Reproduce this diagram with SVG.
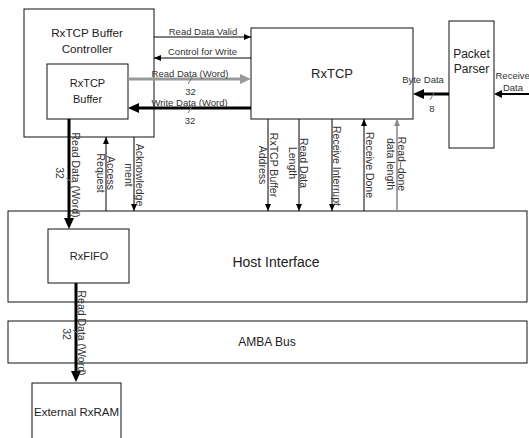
<svg xmlns="http://www.w3.org/2000/svg" width="529" height="438" viewBox="0 0 529 438">
<style>
.box{fill:#fff;stroke:#111;stroke-width:1}
.t{font-family:"Liberation Sans",Arial,sans-serif;fill:#222}
.lbl{font-family:"Liberation Sans",Arial,sans-serif;fill:#333;font-size:9.5px}
.vl{font-family:"Liberation Sans",Arial,sans-serif;fill:#333;font-size:10.5px;text-anchor:middle}
.thin{stroke:#000;stroke-width:1;fill:none}
.thick{stroke:#000;stroke-width:3;fill:none}
.gthick{stroke:#999;stroke-width:3;fill:none}
.gthin{stroke:#888;stroke-width:1.5;fill:none}
.sl{stroke:#777;stroke-width:1}
</style>
<defs>
<marker id="ah" markerUnits="userSpaceOnUse" markerWidth="8" markerHeight="6" refX="7" refY="3" orient="auto"><path d="M0,0L7,3L0,6z" fill="#000"/></marker>
<marker id="ahg" markerUnits="userSpaceOnUse" markerWidth="8" markerHeight="6" refX="7" refY="3" orient="auto"><path d="M0,0L7,3L0,6z" fill="#888"/></marker>
<marker id="ahB" markerUnits="userSpaceOnUse" markerWidth="12" markerHeight="10" refX="0" refY="5" orient="auto" overflow="visible"><path d="M0,0L11,5L0,10z" fill="#000"/></marker>
<marker id="ahBg" markerUnits="userSpaceOnUse" markerWidth="12" markerHeight="10" refX="0" refY="5" orient="auto" overflow="visible"><path d="M0,0L11,5L0,10z" fill="#999"/></marker>
<marker id="ahM" markerUnits="userSpaceOnUse" markerWidth="9" markerHeight="8" refX="0" refY="4" orient="auto" overflow="visible"><path d="M0,0L8,4L0,8z" fill="#000"/></marker>
</defs>
<rect width="529" height="438" fill="#fff"/>

<g id="controller">
<rect class="box" x="24" y="9" width="130" height="128"/>
<text class="t" font-size="11.7" text-anchor="middle" x="87" y="37">RxTCP Buffer</text>
<text class="t" font-size="11.7" text-anchor="middle" x="87" y="53">Controller</text>
</g>
<g id="buffer">
<rect class="box" x="47" y="64" width="81" height="55"/>
<text class="t" font-size="11" text-anchor="middle" x="87.5" y="87">RxTCP</text>
<text class="t" font-size="11" text-anchor="middle" x="87.5" y="103">Buffer</text>
</g>
<g id="rxtcp">
<rect class="box" x="251" y="28" width="162" height="91"/>
<text class="t" font-size="13" text-anchor="middle" x="332" y="78">RxTCP</text>
</g>
<g id="parser">
<rect class="box" x="449" y="21" width="45" height="127"/>
<text class="t" font-size="12" text-anchor="middle" x="471.5" y="58">Packet</text>
<text class="t" font-size="12" text-anchor="middle" x="471.5" y="73">Parser</text>
</g>
<g id="host">
<rect class="box" x="8" y="211" width="519" height="91"/>
<text class="t" font-size="14" text-anchor="middle" x="276" y="267">Host Interface</text>
</g>
<g id="rxfifo">
<rect class="box" x="48" y="229" width="81" height="54"/>
<text class="t" font-size="11" text-anchor="middle" x="89" y="260">RxFIFO</text>
</g>
<g id="amba">
<rect class="box" x="8" y="321" width="519" height="42"/>
<text class="t" font-size="12" text-anchor="middle" x="267" y="346">AMBA Bus</text>
</g>
<g id="rxram">
<rect class="box" x="32" y="383" width="89" height="70"/>
<text class="t" font-size="11.5" text-anchor="middle" x="76.5" y="416">External RxRAM</text>
</g>

<g id="connectors">
<line class="thin" x1="154" y1="37" x2="251" y2="37" marker-end="url(#ah)"/>
<text class="lbl" text-anchor="middle" x="203" y="34.5">Read Data Valid</text>
<line class="thin" x1="251" y1="58" x2="154" y2="58" marker-end="url(#ah)"/>
<text class="lbl" text-anchor="middle" x="202.5" y="55">Control for Write</text>
<line class="gthick" x1="128" y1="79" x2="240" y2="79" marker-end="url(#ahBg)"/>
<text class="lbl" text-anchor="middle" x="190" y="77">Read Data (Word)</text>
<line class="sl" x1="188" y1="84" x2="192" y2="77"/>
<text class="lbl" text-anchor="middle" x="190.5" y="95">32</text>
<line class="thick" x1="251" y1="108" x2="139" y2="108" marker-end="url(#ahB)"/>
<text class="lbl" text-anchor="middle" x="189.5" y="105.5">Write Data (Word)</text>
<line class="sl" x1="188" y1="113" x2="192" y2="106"/>
<text class="lbl" text-anchor="middle" x="190" y="124">32</text>

<line class="thick" x1="449" y1="94" x2="424" y2="94" marker-end="url(#ahB)"/>
<text class="lbl" text-anchor="middle" x="423" y="83">Byte Data</text>
<line class="sl" x1="430" y1="100" x2="434" y2="93"/>
<text class="lbl" text-anchor="middle" x="432" y="112">8</text>
<line stroke="#000" stroke-width="2" x1="529" y1="94" x2="502" y2="94" marker-end="url(#ahM)"/>
<text class="lbl" font-size="8.4" x="495.5" y="79">Receive</text>
<text class="lbl" text-anchor="middle" x="513" y="91">Data</text>

<line class="thin" x1="268" y1="119" x2="268" y2="211" marker-end="url(#ah)"/>
<text class="vl" transform="translate(270,165) rotate(90)"><tspan x="0" y="0">RxTCP Buffer</tspan><tspan x="0" y="11">Address</tspan></text>
<line class="thin" x1="299" y1="119" x2="299" y2="211" marker-end="url(#ah)"/>
<text class="vl" transform="translate(300,163) rotate(90)"><tspan x="0" y="0">Read Data</tspan><tspan x="0" y="11">Length</tspan></text>
<line class="thin" x1="332" y1="119" x2="332" y2="211" marker-end="url(#ah)"/>
<text class="vl" transform="translate(333,166) rotate(90)">Receive Interrupt</text>
<line class="thin" x1="364" y1="211" x2="364" y2="119" marker-end="url(#ah)"/>
<text class="vl" transform="translate(366,165) rotate(90)">Receive Done</text>
<line class="gthin" x1="397" y1="211" x2="397" y2="119" marker-end="url(#ahg)"/>
<text class="vl" transform="translate(398,164) rotate(90)"><tspan x="0" y="0">Read–done</tspan><tspan x="0" y="11">data length</tspan></text>

<line class="thick" x1="69" y1="119" x2="69" y2="218" marker-end="url(#ahB)"/>
<text class="vl" transform="translate(72,175) rotate(90)">Read Data (Word)</text>
<line class="sl" x1="66" y1="178" x2="72" y2="182"/>
<text class="vl" transform="translate(56,173) rotate(90)">32</text>
<line class="thin" x1="106" y1="211" x2="106" y2="137" marker-end="url(#ah)"/>
<text class="vl" transform="translate(107,173) rotate(90)"><tspan x="0" y="0">Access</tspan><tspan x="0" y="10">Request</tspan></text>
<line class="thin" x1="134" y1="137" x2="134" y2="211" marker-end="url(#ah)"/>
<text class="vl" transform="translate(136,175) rotate(90)"><tspan x="0" y="0">Acknowledge</tspan><tspan x="0" y="11">ment</tspan></text>

<line class="thick" x1="76" y1="283" x2="76" y2="371" marker-end="url(#ahB)"/>
<text class="vl" transform="translate(78,333) rotate(90)">Read Data (Word)</text>
<line class="sl" x1="73" y1="330" x2="79" y2="334"/>
<text class="vl" transform="translate(63,334) rotate(90)">32</text>
</g>
</svg>
